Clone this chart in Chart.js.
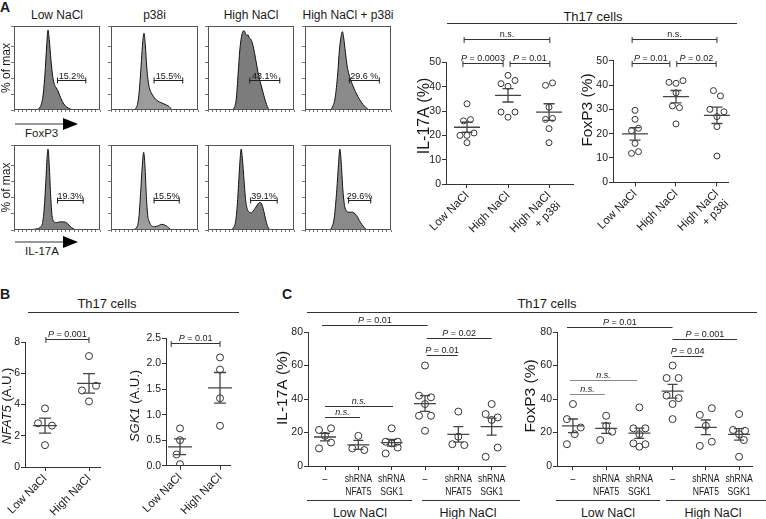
<!DOCTYPE html>
<html>
<head>
<meta charset="utf-8">
<script src="https://cdn.jsdelivr.net/npm/chart.js@4.4.1/dist/chart.umd.min.js"></script>
<style>
  html, body { margin: 0; padding: 0; background: #fff; }
  #fig { position: relative; width: 766px; height: 519px; overflow: hidden;
         font-family: 'Liberation Sans', Arial, sans-serif; color: #1a1a1a; }
  #fig canvas { position: absolute; }
  .t { position: absolute; white-space: nowrap; line-height: 1; }
  .hl { position: absolute; height: 0; border-top: 1px solid #333; }
</style>
</head>
<body>
<div id="fig"></div>
<script>
// ---------- data ----------
// Panel A, flow histograms: [fluorescence (0-100 of plot width), % of max]
const conditionsA = ['Low NaCl', 'p38i', 'High NaCl', 'High NaCl + p38i'];

const foxp3Hist = [
  [[0,0],[26,0],[29,2],[32,8],[34,20],[36,45],[38,80],[39.5,100],[41,88],[43,62],[45,42],[47,32],[49,28],[51,24],[54,16],[57,9],[61,4],[66,1],[70,0],[100,0]],
  [[0,0],[26,0],[29,3],[31,10],[33,30],[35,62],[36.5,85],[38,96],[39.5,80],[41,55],[42.5,38],[44,28],[47,20],[50,15],[54,11],[58,9],[62,7],[66,5],[68,3],[70,0],[100,0]],
  [[0,0],[27,0],[30,2],[33,15],[35,45],[37,75],[39,92],[40.5,98],[42,99],[43.5,96],[45,93],[46.5,94],[48,90],[50,88],[52,82],[54,72],[56,60],[58,48],[60,38],[62,30],[64,22],[66,14],[68,7],[70,2],[72,0],[100,0]],
  [[0,0],[29,0],[32,4],[35,15],[38,45],[40,75],[42,92],[43.5,98],[45,90],[47,72],[49,55],[51,45],[54,35],[57,27],[60,20],[63,14],[66,9],[69,5],[72,2],[75,0],[100,0]]
];
const foxp3Gates = [[50, 84], [49, 83], [48, 84], [51, 87]];
const foxp3Pct = ['15.2%', '15.5%', '43.1%', '29.6 %'];

const il17Hist = [
  [[0,0],[18,0],[24,1],[30,3],[33,8],[35,25],[37,60],[38.5,90],[39.5,100],[41,80],[42.5,45],[44,20],[46,11],[49,9],[53,10],[58,10],[61,9],[64,6],[67,3],[70,1],[72,0],[100,0]],
  [[0,0],[22,0],[27,1],[30,4],[32,15],[34,45],[36,80],[37.5,96],[39,80],[40.5,45],[42,20],[44,10],[47,5],[50,4],[54,5],[58,7],[62,6],[65,4],[68,1],[70,0],[100,0]],
  [[0,0],[26,0],[29,2],[32,10],[34,30],[36,65],[37.5,90],[38.5,100],[40,88],[42,60],[44,35],[46,25],[48,22],[50,21],[52,23],[55,27],[58,32],[60,34],[62,33],[64,27],[66,18],[68,9],[70,3],[73,0],[100,0]],
  [[0,0],[28,0],[31,3],[34,15],[37,50],[39,82],[40.5,100],[42,85],[44,50],[46,30],[48,24],[51,22],[54,22],[57,21],[60,18],[63,12],[66,7],[69,3],[72,0],[100,0]]
];
const il17Gates = [[50, 81], [49, 79], [49, 81], [50, 77]];
const il17Pct = ['19.3%', '15.5%', '39.1%', '29.6%'];
const GATE_LEVEL = 37.5;

// Panel A, dot plots (%)
const groupsA = ['Low NaCl', 'High NaCl', ['High NaCl', '+ p38i']];
const il17aA = [
  [33, 26, 26.5, 20, 20, 21, 17],
  [44.7, 41.3, 42.6, 40.2, 29.6, 29.6, 27.5],
  [40.6, 41.6, 31.6, 26.6, 27, 22.8, 17]
];
const foxp3A = [
  [29.6, 25.9, 21.2, 22.2, 16, 11.9, 12.6],
  [41.1, 40.7, 41.8, 36.8, 31.4, 30.7, 24],
  [37.7, 35.5, 30, 29, 27, 22.9, 10.8]
];

// Panel B, qPCR (A.U.)
const groupsB = ['Low NaCl', 'High NaCl'];
const nfat5B = [[3.75, 2.8, 2.65, 1.4], [7.1, 4.9, 5.2, 4.2]];
const sgk1B = [[0.73, 0.5, 0.22, 0.03], [2.12, 1.88, 1.32, 0.78]];

// Panel C, shRNA knockdown (%)
const groupsC = ['–', ['shRNA', 'NFAT5'], ['shRNA', 'SGK1'], '–', ['shRNA', 'NFAT5'], ['shRNA', 'SGK1']];
const il17aC = [
  [21.5, 22.5, 18, 14, 10.5],
  [18, 10.5, 9.5],
  [22.5, 14.5, 14.5, 13.5, 11, 7.5],
  [60, 42, 41, 37, 30, 30, 21],
  [32.5, 17.5, 13, 12.5],
  [37, 31, 29, 27.5, 11, 5.5]
];
const foxp3C = [
  [37, 28, 23, 19, 13],
  [30, 24, 20.5, 15.5],
  [35, 22.5, 22.5, 19, 13.5, 13, 11.5],
  [60, 52.5, 52.5, 42, 40.5, 37, 28],
  [34.5, 30.5, 24, 14.5, 12],
  [31, 21.5, 21, 19, 15.5, 5.5]
];

// significance bars: from/to in category units, at = y value
const statsAil17 = [
  {from: -0.07, to: 2.02, at: 59.7, text: 'n.s.'},
  {from: -0.1, to: 0.88, at: 49.8, text: 'P = 0.0003'},
  {from: 1.05, to: 2.02, at: 49.8, text: 'P = 0.01'}
];
const statsAfox = [
  {from: -0.07, to: 2.0, at: 58.9, text: 'n.s.'},
  {from: -0.07, to: 0.85, at: 49.0, text: 'P = 0.01'},
  {from: 1.02, to: 1.98, at: 49.0, text: 'P = 0.02'}
];
const statsBnfat = [{from: 0.02, to: 1.0, at: 8.19, text: 'P = 0.001'}];
const statsBsgk = [{from: -0.22, to: 1.0, at: 2.4, text: 'P = 0.01'}];
const statsCil17 = [
  {from: -0.09, to: 3.08, at: 84.2, text: 'P = 0.01'},
  {from: 3.05, to: 5.0, at: 76.4, text: 'P = 0.02'},
  {from: 3.05, to: 3.98, at: 66.3, text: 'P = 0.01'},
  {from: 0, to: 2.04, at: 35.8, text: 'n.s.'},
  {from: 0, to: 1.05, at: 29.3, text: 'n.s.'}
];
const statsCfox = [
  {from: -0.18, to: 3.0, at: 83, text: 'P = 0.01'},
  {from: 3.0, to: 4.94, at: 75.8, text: 'P = 0.001'},
  {from: 3.0, to: 3.9, at: 65.7, text: 'P = 0.04'},
  {from: -0.09, to: 1.93, at: 51.3, text: 'n.s.', grey: true},
  {from: -0.09, to: 0.96, at: 43, text: 'n.s.', grey: true}
];

// ---------- layout (point spread inside each group, in dot slots) ----------
const spreadAil17 = [[0,-0.5,0.5,-1,0,1,0], [0,-1,1,0,-1,1,0], [-0.5,0.5,0,-0.5,0.5,0,0]];
const spreadAfox = [[0,0,-0.5,0.5,0,-0.5,0.5], [-1,0,1,0,-0.5,0.5,0], [-0.5,0.5,-1,1,0,0,0]];
const spreadBnfat = [[0,-1,1,0], [0,-1,1,0]];
const spreadBsgk = [[0,0,-0.5,0], [0,0,0,0]];
const spreadCil17 = [[-1,1,0,1,-1], [0,-1,1], [0,-1,1,0,1,-1], [0,-1,1,0,-1,1,0], [0,0,-1,1], [0,-1,1,0,1,-1]];
const spreadCfox = [[0,-1,1.3,0.3,-1], [0,0,1,-1], [0,-1,1,0,-1,1,0], [0,-1,1,-1,1,0,0], [1,-1,0,1,-1], [0,-1,1,0,0.8,0]];

const FONT = "'Liberation Sans', Arial, sans-serif";
const fig = document.getElementById('fig');

function addCanvas(L, T, R, B) {
  const c = document.createElement('canvas');
  c.width = R - L;
  c.height = B - T;
  c.style.left = L + 'px';
  c.style.top = T + 'px';
  c.style.width = (R - L) + 'px';
  c.style.height = (B - T) + 'px';
  fig.appendChild(c);
  return c;
}

function label(html, x, y, o = {}) {
  const d = document.createElement('div');
  d.className = 't';
  d.innerHTML = html;
  d.style.fontSize = (o.size || 12) + 'px';
  if (o.bold) d.style.fontWeight = 'bold';
  d.style.left = x + 'px';
  d.style.top = y + 'px';
  d.style.transform = o.left ? 'translate(0,-50%)' : 'translate(-50%,-50%)';
  fig.appendChild(d);
}

function hline(x1, x2, y, color) {
  const d = document.createElement('div');
  d.className = 'hl';
  d.style.left = x1 + 'px';
  d.style.top = y + 'px';
  d.style.width = (x2 - x1) + 'px';
  if (color) d.style.borderTopColor = color;
  fig.appendChild(d);
}

function arrow(x1, x2, y) {
  hline(x1, x2, y - 0.5, '#999');
  fig.lastChild.style.borderTopWidth = '2px';
  const h = document.createElement('div');
  h.style.cssText = 'position:absolute;width:0;height:0;border-top:6px solid transparent;' +
    'border-bottom:6px solid transparent;border-left:15px solid #000;';
  h.style.left = x2 + 'px';
  h.style.top = (y - 6) + 'px';
  fig.appendChild(h);
}

// vertical axis titles, drawn on one overlay canvas; parts = [[text, italic], ...]
const vTitles = [];
function vtitle(parts, x, y, size) { vTitles.push({parts, x, y, size}); }
function drawVTitles() {
  const c = addCanvas(0, 0, 766, 519);
  c.style.pointerEvents = 'none';
  const ctx = c.getContext('2d');
  ctx.fillStyle = '#1a1a1a';
  ctx.textBaseline = 'middle';
  vTitles.forEach(({parts, x, y, size}) => {
    const fonts = parts.map(([, it]) => (it ? 'italic ' : '') + size + 'px ' + FONT);
    const widths = parts.map(([s], i) => { ctx.font = fonts[i]; return ctx.measureText(s).width; });
    const total = widths.reduce((a, b) => a + b, 0);
    ctx.save();
    ctx.translate(x, y);
    ctx.rotate(-Math.PI / 2);
    let cx = -total / 2;
    parts.forEach(([s], i) => {
      ctx.font = fonts[i];
      ctx.textAlign = 'left';
      ctx.fillText(s, cx, 0);
      cx += widths[i];
    });
    ctx.restore();
  });
}

// ---------- flow histograms ----------
function histogram(box, points, gate, pct, fill) {
  const [l, t, r, b] = box;
  const c = addCanvas(l - 4, t - 1, r + 1, b + 4);
  new Chart(c, {
    type: 'line',
    data: {
      datasets: [{
        data: points.map(([x, y]) => ({x, y})),
        fill: 'origin',
        backgroundColor: fill,
        borderColor: '#111',
        borderWidth: 1,
        pointRadius: 0,
        cubicInterpolationMode: 'monotone'
      }]
    },
    options: {
      responsive: false, animation: false, events: [],
      layout: {padding: {top: 1, right: 1, left: 0, bottom: 0}},
      plugins: {legend: {display: false}, tooltip: {enabled: false}},
      scales: {
        x: {type: 'linear', min: 0, max: 100,
            ticks: {display: false, stepSize: 5},
            grid: {drawOnChartArea: false, tickLength: 2, color: '#777'},
            border: {display: false},
            afterFit: s => { s.height = 4; }},
        y: {min: 0, max: 105,
            ticks: {display: false, stepSize: 20},
            grid: {drawOnChartArea: false, tickLength: 3, color: '#777'},
            border: {display: false},
            afterFit: s => { s.width = 4; }}
      }
    },
    plugins: [{
      id: 'gate',
      afterDraw(ch) {
        const {ctx, chartArea: a, scales: {x, y}} = ch;
        ctx.save();
        ctx.strokeStyle = '#555';
        ctx.lineWidth = 1;
        ctx.strokeRect(a.left + 0.5, a.top + 0.5, a.width - 1, a.height - 1);
        const gy = Math.round(y.getPixelForValue(GATE_LEVEL)) + 0.5;
        const x1 = x.getPixelForValue(gate[0]), x2 = x.getPixelForValue(gate[1]);
        ctx.strokeStyle = '#222';
        ctx.beginPath();
        ctx.moveTo(x1, gy); ctx.lineTo(x2, gy);
        ctx.moveTo(x1 + 0.5, gy - 3); ctx.lineTo(x1 + 0.5, gy + 3);
        ctx.moveTo(x2 - 0.5, gy - 3); ctx.lineTo(x2 - 0.5, gy + 3);
        ctx.stroke();
        ctx.font = '9px ' + FONT;
        ctx.fillStyle = '#111';
        ctx.textAlign = 'center';
        ctx.textBaseline = 'alphabetic';
        ctx.fillText(pct, (x1 + x2) / 2, gy - 1.5);
        ctx.restore();
      }
    }]
  });
}

// ---------- dot plots with mean ± SEM ----------
function drawStat(ctx, text, cx, y, italic) {
  ctx.textBaseline = 'alphabetic';
  ctx.fillStyle = '#1a1a1a';
  if (text.startsWith('P')) {
    const it = 'italic 9px ' + FONT, rm = '9px ' + FONT;
    ctx.font = it;
    const w1 = ctx.measureText('P').width;
    ctx.font = rm;
    const rest = text.slice(1);
    const w2 = ctx.measureText(rest).width;
    const x0 = cx - (w1 + w2) / 2;
    ctx.textAlign = 'left';
    ctx.font = it;
    ctx.fillText('P', x0, y);
    ctx.font = rm;
    ctx.fillText(rest, x0 + w1, y);
  } else {
    ctx.font = (italic ? 'italic ' : '') + '9px ' + FONT;
    ctx.textAlign = 'center';
    ctx.fillText(text, cx, y);
  }
}

function dotPlot(o) {
  const c = addCanvas(o.L, o.T, o.R, o.B);
  const [al, at, ar, ab] = o.area;
  const pxPerCat = (ar - al) / (o.xMax - o.xMin);
  const slotUnit = o.slotPx / pxPerCat;
  const datasets = o.values.map((vals, gi) => ({
    data: vals.map((v, k) => ({x: gi + o.spread[gi][k] * slotUnit, y: v})),
    showLine: false,
    pointRadius: o.r, pointHoverRadius: o.r, pointBorderWidth: 1,
    pointBorderColor: '#333', pointBackgroundColor: 'rgba(255,255,255,0)'
  }));
  const tickFont = {family: FONT, size: 10.5};
  new Chart(c, {
    type: 'scatter',
    data: {datasets},
    options: {
      responsive: false, animation: false, events: [],
      layout: {padding: {top: at - o.T, right: o.R - ar, left: 0, bottom: 0}},
      plugins: {legend: {display: false}, tooltip: {enabled: false}},
      scales: {
        x: {
          type: 'linear', min: o.xMin, max: o.xMax,
          afterBuildTicks: s => { s.ticks = o.labels.map((_, i) => ({value: i})); },
          afterFit: s => { s.height = o.B - ab; },
          ticks: {
            display: !o.narrowCats,
            callback: (v, i) => o.labels[i],
            font: {family: FONT, size: o.catSize}, color: '#1a1a1a',
            padding: o.catPad, autoSkip: false,
            minRotation: o.rotate, maxRotation: o.rotate
          },
          grid: {drawOnChartArea: false, tickLength: 4, color: '#333'},
          border: {display: true, color: '#333', width: 1}
        },
        y: {
          min: 0, max: o.yMax,
          afterFit: s => { s.width = al - o.L; },
          ticks: {stepSize: o.step, font: tickFont, color: '#1a1a1a', padding: 1,
                  callback: v => o.fmt ? o.fmt(v) : v},
          grid: {drawOnChartArea: false, tickLength: 4, color: '#333'},
          border: {display: true, color: '#333', width: 1}
        }
      }
    },
    plugins: [{
      id: 'meanSem',
      afterDatasetsDraw(ch) {
        const {ctx, scales: {x, y}} = ch;
        ctx.save();
        ctx.strokeStyle = '#444';
        ctx.lineWidth = 1.3;
        o.values.forEach((vals, gi) => {
          const n = vals.length;
          const m = vals.reduce((s, v) => s + v, 0) / n;
          const sd = Math.sqrt(vals.reduce((s, v) => s + (v - m) ** 2, 0) / (n - 1));
          const se = sd / Math.sqrt(n);
          const cx = x.getPixelForValue(gi);
          const ym = y.getPixelForValue(m), yu = y.getPixelForValue(m + se), yl = y.getPixelForValue(m - se);
          ctx.beginPath();
          ctx.moveTo(cx - o.meanHalf, ym); ctx.lineTo(cx + o.meanHalf, ym);
          ctx.moveTo(cx, yu); ctx.lineTo(cx, yl);
          ctx.moveTo(cx - o.capHalf, yu); ctx.lineTo(cx + o.capHalf, yu);
          ctx.moveTo(cx - o.capHalf, yl); ctx.lineTo(cx + o.capHalf, yl);
          ctx.stroke();
        });
        ctx.restore();
      },
      afterDraw(ch) {
        const {ctx, scales: {x, y}} = ch;
        ctx.save();
        o.stats.forEach(bk => {
          const x1 = x.getPixelForValue(bk.from), x2 = x.getPixelForValue(bk.to);
          const yy = Math.round(y.getPixelForValue(bk.at)) + 0.5;
          ctx.strokeStyle = bk.grey ? '#888' : '#333';
          ctx.lineWidth = 1;
          ctx.beginPath();
          ctx.moveTo(x1, yy); ctx.lineTo(x2, yy);
          if (o.ends) {
            ctx.moveTo(x1, yy - 2.5); ctx.lineTo(x1, yy + 3.5);
            ctx.moveTo(x2, yy - 2.5); ctx.lineTo(x2, yy + 3.5);
          }
          ctx.stroke();
          drawStat(ctx, bk.text, (x1 + x2) / 2, yy - 2.5, o.nsItalic);
        });
        // condensed two-line category labels (panel C)
        if (o.narrowCats) {
          ctx.fillStyle = '#1a1a1a';
          ctx.font = o.catSize + 'px ' + FONT;
          ctx.textAlign = 'center';
          ctx.textBaseline = 'middle';
          o.labels.forEach((lab, i) => {
            const lines = Array.isArray(lab) ? lab : [lab];
            lines.forEach((s, k) => {
              ctx.save();
              ctx.translate(x.getPixelForValue(i), y.bottom + 13 + k * 12.5);
              ctx.scale(0.75, 1);
              ctx.fillText(s, 0, 0);
              ctx.restore();
            });
          });
        }
        ctx.restore();
      }
    }]
  });
}

// ---------- panel A ----------
label('A', 5, 7, {size: 14, bold: true});
const colsA = [[14, 100], [111, 198], [208, 294], [305, 391]];
const fillsA = ['#808080', '#9c9c9c', '#7c7c7c', '#8a8a8a'];
colsA.forEach(([l, r], i) => {
  label(conditionsA[i], (l + r) / 2, 15, {size: 12});
  histogram([l, 26, r, 110], foxp3Hist[i], foxp3Gates[i], foxp3Pct[i], fillsA[i]);
  histogram([l, 145, r, 230], il17Hist[i], il17Gates[i], il17Pct[i], fillsA[i]);
});
vtitle([['% of max', false]], 7, 68, 12);
vtitle([['% of max', false]], 7, 187.5, 12);
arrow(15, 63, 123.5);
label('FoxP3', 25, 134, {size: 11.5, left: true});
arrow(15, 63, 241.5);
label('IL-17A', 25, 252, {size: 11.5, left: true});

label('Th17 cells', 593, 16, {size: 13});
hline(447, 737, 23);

dotPlot({L: 416, T: 25, R: 580, B: 248, area: [446, 62.5, 573, 184],
  xMin: -0.512, xMax: 2.585, yMax: 50, step: 10,
  labels: groupsA, rotate: 45, catSize: 11.5, catPad: 1,
  values: il17aA, spread: spreadAil17, slotPx: 7, r: 3,
  meanHalf: 13, capHalf: 5.5, stats: statsAil17, ends: true, nsItalic: false});
dotPlot({L: 579, T: 25, R: 745, B: 248, area: [613, 60.7, 728, 182.3],
  xMin: -0.537, xMax: 2.27, yMax: 50, step: 10,
  labels: groupsA, rotate: 45, catSize: 11.5, catPad: 1,
  values: foxp3A, spread: spreadAfox, slotPx: 7, r: 3,
  meanHalf: 13, capHalf: 5.5, stats: statsAfox, ends: true, nsItalic: false});
vtitle([['IL-17A (%)', false]], 425, 116, 16);
vtitle([['FoxP3 (%)', false]], 588, 110, 15.5);

// ---------- panel B ----------
label('B', 5, 294, {size: 14, bold: true});
label('Th17 cells', 107, 303, {size: 13});
hline(28, 239, 312);
dotPlot({L: 0, T: 325, R: 112, B: 519, area: [25, 342, 100, 467],
  xMin: -0.455, xMax: 1.25, yMax: 8, step: 2,
  labels: groupsB, rotate: 45, catSize: 11.5, catPad: 1,
  values: nfat5B, spread: spreadBnfat, slotPx: 7, r: 3.5,
  meanHalf: 12, capHalf: 6, stats: statsBnfat, ends: true, nsItalic: false});
dotPlot({L: 127, T: 325, R: 245, B: 519, area: [166, 338, 230, 465.7],
  xMin: -0.35, xMax: 1.25, yMax: 2.5, step: 0.5, fmt: v => v.toFixed(1),
  labels: groupsB, rotate: 45, catSize: 11.5, catPad: 1,
  values: sgk1B, spread: spreadBsgk, slotPx: 7, r: 3.5,
  meanHalf: 12, capHalf: 6, stats: statsBsgk, ends: true, nsItalic: false});
vtitle([['NFAT5', true], [' (A.U.)', false]], 7, 406, 13);
vtitle([['SGK1', true], [' (A.U.)', false]], 135, 406, 13);

// ---------- panel C ----------
label('C', 287, 294, {size: 14, bold: true});
label('Th17 cells', 547, 303, {size: 13});
hline(307, 757, 312);
dotPlot({L: 274, T: 305, R: 515, B: 500, area: [308, 332, 505, 466],
  xMin: -0.51, xMax: 5.4, yMax: 80, step: 20,
  labels: groupsC, rotate: 0, catSize: 11.5, catPad: 3, narrowCats: true,
  values: il17aC, spread: spreadCil17, slotPx: 6, r: 3.5,
  meanHalf: 11, capHalf: 5, stats: statsCil17, ends: false, nsItalic: true});
dotPlot({L: 522, T: 305, R: 766, B: 500, area: [557, 332, 752, 466],
  xMin: -0.48, xMax: 5.39, yMax: 80, step: 20,
  labels: groupsC, rotate: 0, catSize: 11.5, catPad: 3, narrowCats: true,
  values: foxp3C, spread: spreadCfox, slotPx: 6, r: 3.5,
  meanHalf: 11, capHalf: 5, stats: statsCfox, ends: false, nsItalic: true});
vtitle([['IL-17A (%)', false]], 283, 388, 15.5);
vtitle([['FoxP3 (%)', false]], 531, 396, 15.5);
hline(307, 412, 500);
hline(422, 520, 500);
hline(556, 660, 500);
hline(666, 766, 500);
label('Low NaCl', 360, 513, {size: 12.5});
label('High NaCl', 468, 513, {size: 12.5});
label('Low NaCl', 608, 513, {size: 12.5});
label('High NaCl', 713, 513, {size: 12.5});

drawVTitles();
</script>
</body>
</html>
